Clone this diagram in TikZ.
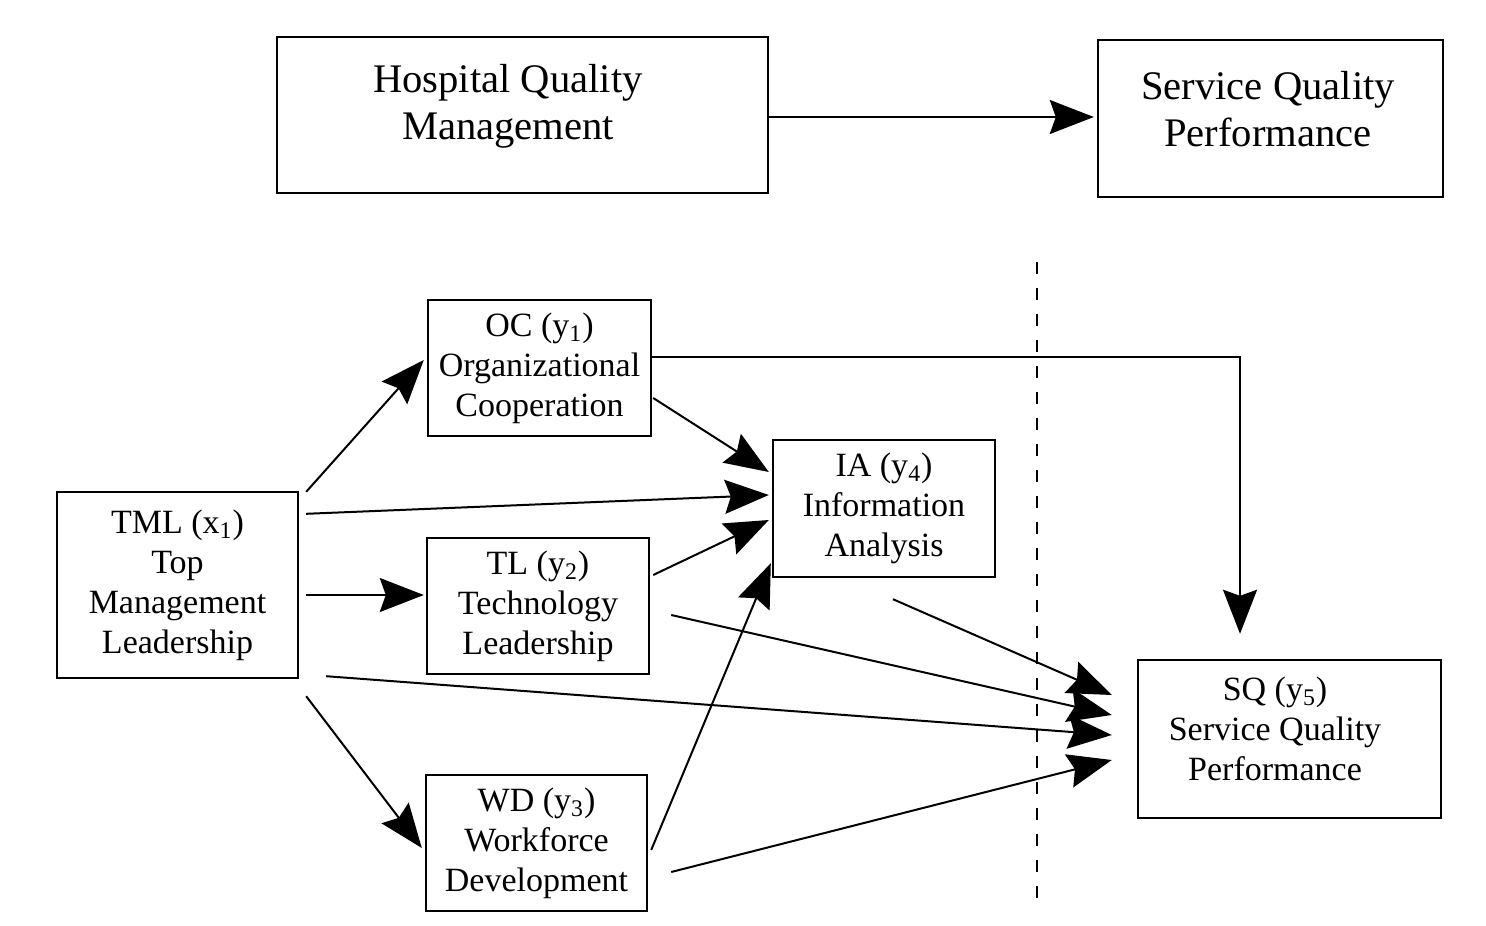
\documentclass[tikz,border=0pt]{standalone}
\usepackage{fontspec}
\setmainfont{Liberation Serif}
\usetikzlibrary{arrows.meta,calc}
\begin{document}
\begin{tikzpicture}[x=0.5pt,y=-0.5pt,
  box/.style={draw,line width=1.2pt,inner sep=0pt,align=center},
  toptext/.style={inner sep=0pt,align=center,font=\fontsize{20.3}{23.5}\selectfont},
  lowbox/.style={box,font=\fontsize{17}{20}\selectfont},
  lowtext/.style={inner sep=0pt,align=center,font=\fontsize{17}{20}\selectfont},
  link/.style={line width=1pt,-{Stealth[length=22pt,width=17pt,inset=3pt]}},
  divider/.style={line width=1pt,dash pattern=on 6pt off 7pt}]
\useasboundingbox (0,0) rectangle (1486,925);

% upper summary model
\node[box,minimum width=245.5pt,minimum height=78pt] (hqm) at (522.5,115) {};
\node[toptext] (hqmtext) at (508,106.5) {Hospital Quality\\Management};
\node[box,minimum width=172.5pt,minimum height=78.5pt] (sqp) at (1270.5,118.5) {};
\node[toptext] (sqptext) at (1268,109.5) {Service Quality\\Performance};
\draw[link] ($(hqm.east)+(0,2)$) -- ($(sqp.west)+(-3,-1.5)$);

% detailed constructs
\node[lowbox,minimum width=111.5pt,minimum height=68pt] (oc) at (539.5,368)
  {OC (y\textsubscript{1})\\Organizational\\Cooperation};
\node[lowbox,minimum width=111pt,minimum height=68.5pt] (ia) at (884,508.5)
  {IA (y\textsubscript{4})\\Information\\Analysis};
\node[lowbox,minimum width=120.5pt,minimum height=93pt] (tml) at (177.5,585)
  {TML (x\textsubscript{1})\\Top\\Management\\Leadership};
\node[lowbox,minimum width=111pt,minimum height=68pt] (tl) at (538,606)
  {TL (y\textsubscript{2})\\Technology\\Leadership};
\node[lowbox,minimum width=110.5pt,minimum height=68pt] (wd) at (536.5,843)
  {WD (y\textsubscript{3})\\Workforce\\Development};
\node[box,minimum width=151.5pt,minimum height=79pt] (sq) at (1289.5,739) {};
\node[lowtext] (sqtext) at (1275,729)
  {SQ (y\textsubscript{5})\\Service Quality\\Performance};

% dividing line
\coordinate (dtop) at (1037,262);
\coordinate (dbot) at (1037,910);
\draw[divider] (dtop) -- (dbot);

% paths from top management leadership
\draw[link] ($(tml.north east)+(7,1)$) -- ($(oc.west)+(-3,-8)$);
\draw[link] ($(tml.north east)+(7,23)$) -- ($(ia.west)+(-3,-13.5)$);
\draw[link] ($(tml.east)+(7,10)$) -- ($(tl.west)+(-2,-11)$);
\draw[link] ($(tml.south east)+(27,-3)$) -- ($(sq.west)+(-25,-4)$);
\draw[link] ($(tml.south east)+(7,17)$) -- ($(wd.west)+(-3,5)$);

% paths from the mediating constructs
\draw[link] ($(oc.east)+(1,30)$) -- ($(ia.west)+(-3,-36.5)$);
\draw[link] ($(oc.east)+(0,-11)$) -| ($(sq.north)+(-49.5,-25)$);
\draw[link] ($(tl.east)+(3,-31)$) -- ($(ia.west)+(-3,11.5)$);
\draw[link] ($(tl.east)+(21,9)$) -- ($(sq.west)+(-25,-24)$);
\draw[link] ($(wd.east)+(3,7)$) -- ($(ia.south west)+(-1,-15)$);
\draw[link] ($(wd.east)+(23,29)$) -- ($(sq.west)+(-25,21)$);
\draw[link] ($(ia.south)+(9,21)$) -- ($(sq.west)+(-25,-44)$);
\end{tikzpicture}
\end{document}
